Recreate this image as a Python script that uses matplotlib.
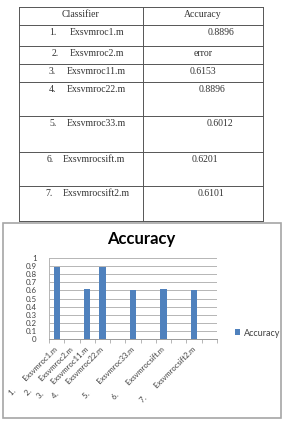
import numpy as np
import matplotlib
matplotlib.use("Agg")
import matplotlib.pyplot as plt
from matplotlib.patches import Rectangle

# table data
row_numbers = ["1.", "2.", "3.", "4.", "5.", "6.", "7."]
classifiers = ["Exsvmroc1.m", "Exsvmroc2.m", "Exsvmroc11.m", "Exsvmroc22.m",
               "Exsvmroc33.m", "Exsvmrocsift.m", "Exsvmrocsift2.m"]
accuracy_text = ["0.8896", "error", "0.6153", "0.8896", "0.6012", "0.6201", "0.6101"]

# chart data (error row has no bar; blank rows in the sheet give empty slots)
accuracy = [0.8896, np.nan, 0.6153, 0.8896, 0.6012, 0.6201, 0.6101]
chart_slots = [0, 1, 2, 3, 5, 7, 9]
n_slots = 11
y_ticks = [0, 0.1, 0.2, 0.3, 0.4, 0.5, 0.6, 0.7, 0.8, 0.9, 1]

# layout of the scanned table (pixels)
row_lines = [7, 25, 46, 64, 82, 116, 152, 186, 221]
num_x = [49, 52, 49, 49, 49, 47, 45]
name_x = [70, 70, 67, 67, 67, 63, 63]
value_x = [221, 203, 203, 212, 220, 205, 211]

W, H = 284, 425
fig = plt.figure(figsize=(W / 100, H / 100), dpi=100)
bg = fig.add_axes([0, 0, 1, 1])
bg.set_xlim(0, W)
bg.set_ylim(H, 0)
bg.axis("off")

line_kw = dict(color="#555555", lw=0.7)
for y in row_lines:
    bg.plot([19, 263], [y, y], **line_kw)
for x in (19, 143, 263):
    bg.plot([x, x], [row_lines[0], row_lines[-1]], **line_kw)

serif = "Liberation Serif"
tfs = 7
tcol = "#333333"
bg.text(81, 14, "Classifier", family=serif, fontsize=tfs, ha="center", va="center", color=tcol)
bg.text(203, 14, "Accuracy", family=serif, fontsize=tfs, ha="center", va="center", color=tcol)
for i in range(len(classifiers)):
    yc = row_lines[i + 1] + 7
    bg.text(num_x[i], yc, row_numbers[i], family=serif, fontsize=tfs, ha="left", va="center", color=tcol)
    bg.text(name_x[i], yc, classifiers[i], family=serif, fontsize=tfs, ha="left", va="center", color=tcol)
    bg.text(value_x[i], yc, accuracy_text[i], family=serif, fontsize=tfs, ha="center", va="center", color=tcol)

# chart frame
bg.add_patch(Rectangle((3, 223), 278, 195, fill=False, edgecolor="#a6a6a6", lw=1.2))
bg.text(141, 239, "Accuracy", family="Lato", fontweight="bold", fontsize=12, ha="center", va="center", color="black")

ax = fig.add_axes([49 / W, 1 - 339 / H, 168 / W, 81 / H])
ax.set_facecolor("none")
ax.bar(chart_slots, accuracy, width=0.4, color="#4f81bd", zorder=3, label="Accuracy")
ax.set_xlim(-0.5, n_slots - 0.5)
ax.set_ylim(0, 1)
ax.set_yticks(y_ticks)
ax.set_yticklabels([f"{v:g}" for v in y_ticks], family="Lato", fontsize=5.7, color="#404040")
ax.grid(axis="y", color="#b5b5b5", lw=0.7, zorder=0)
for s in ("top", "right"):
    ax.spines[s].set_visible(False)
ax.spines["left"].set_color("#b5b5b5")
ax.spines["bottom"].set_color("#9a9a9a")
ax.spines["left"].set_linewidth(0.7)
ax.spines["bottom"].set_linewidth(0.7)
ax.tick_params(axis="y", length=0, pad=9)

labels = [""] * n_slots
for num, name, s in zip(row_numbers, classifiers, chart_slots):
    labels[s] = f"{num}       {name}"
ax.set_xticks(range(n_slots))
ax.set_xticklabels(labels, family="Lato", fontsize=5.5, color="#404040")
ax.set_xticks(np.arange(n_slots + 1) - 0.5, minor=True)
ax.tick_params(axis="x", which="major", length=0, pad=6.5)
ax.tick_params(axis="x", which="minor", length=3, color="#b5b5b5", width=0.7)
plt.setp(ax.get_xticklabels(), rotation=45, ha="right", va="center", rotation_mode="anchor")

ax.legend(loc="center left", bbox_to_anchor=(230 / W, 1 - 333 / H), bbox_transform=fig.transFigure,
          frameon=False, handlelength=0.6, handleheight=0.6, handletextpad=0.4, borderpad=0,
          prop={"family": "Lato", "size": 6.5}, labelcolor="#404040")

fig.savefig("out.png", dpi=100)
